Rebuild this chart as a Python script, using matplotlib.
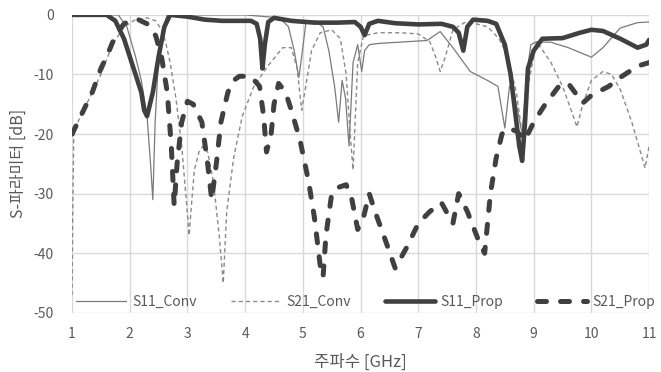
import matplotlib
matplotlib.use("Agg")
import matplotlib.pyplot as plt

plt.rcParams['font.family'] = ['Noto Sans CJK KR', 'DejaVu Sans']

# S11_Conv (thin solid)
f_s11_conv = [1.0, 1.8, 1.95, 2.1, 2.2, 2.3, 2.36, 2.4, 2.44, 2.5, 2.58, 2.65, 3.0, 4.0, 4.6,
              4.75, 4.85, 4.93, 4.98, 5.05, 5.2, 5.35, 5.45, 5.55, 5.62, 5.68, 5.74, 5.8, 5.87,
              5.95, 6.02, 6.07, 6.15, 6.3, 6.8, 7.15, 7.38, 7.6, 7.9, 8.2, 8.38, 8.5, 8.58,
              8.66, 8.72, 8.8, 8.88, 8.95, 9.05, 9.3, 9.6, 10.0, 10.2, 10.5, 10.8, 11.0]
s11_conv = [0, 0, -2, -7, -11, -17, -25, -31, -18, -7, -2, 0, 0, 0, -0.5,
            -2, -6, -10.5, -7, -1.5, -1, -2, -6, -12, -18, -11, -14, -22, -8,
            -5, -9.5, -6, -5, -4.8, -4.5, -4.3, -2.8, -5.5, -9.5, -11, -12, -19, -12,
            -13, -16, -20, -10, -5, -4.5, -4.6, -5.5, -7.1, -5.5, -2.2, -1.3, -1.2]

# S21_Conv (thin dashed)
f_s21_conv = [1.0, 1.01, 1.03, 1.1, 1.3, 1.5, 1.7, 1.9, 2.1, 2.3, 2.45, 2.55, 2.62, 2.7, 2.8,
              2.9, 2.97, 3.03, 3.06, 3.12, 3.2, 3.27, 3.35, 3.45, 3.55, 3.62, 3.68, 3.8, 3.95,
              4.15, 4.4, 4.65, 4.8, 4.9, 4.98, 5.05, 5.15, 5.3, 5.5, 5.65, 5.75, 5.82, 5.87,
              5.95, 6.05, 6.3, 6.7, 7.0, 7.2, 7.3, 7.38, 7.47, 7.6, 7.8, 8.0, 8.2, 8.4, 8.55,
              8.7, 8.8, 8.9, 9.05, 9.3, 9.5, 9.65, 9.75, 9.85, 10.0, 10.2, 10.35, 10.5, 10.7,
              10.85, 10.93, 11.0]
s21_conv = [-47, -35, -20, -18, -14, -10, -5, -2, -0.8, -0.5, -1, -2.5, -4.5, -8, -14,
            -22, -30, -37, -33, -26, -23, -22, -23, -28, -37, -45, -33, -24, -17,
            -12, -8.5, -5.5, -5.5, -9, -16, -12, -6, -3, -2.5, -4, -10, -20, -26,
            -8, -3.5, -3, -3, -3.2, -4.5, -7, -9.5, -7, -2.5, -1.3, -1.5, -2, -4, -7,
            -13, -20, -12, -4.5, -8, -12, -16, -18.8, -15, -11, -9.5, -10, -12.5, -18,
            -23, -25.7, -22]

# S11_Prop (thick solid)
f_s11_prop = [1.0, 1.6, 1.75, 1.9, 2.0, 2.1, 2.2, 2.25, 2.3, 2.4, 2.5, 2.6, 2.7, 3.0, 3.3,
              3.6, 3.9, 4.1, 4.2, 4.26, 4.3, 4.34, 4.4, 4.5, 4.8, 5.2, 5.6, 5.9, 6.0, 6.07,
              6.15, 6.3, 6.6, 7.0, 7.4, 7.6, 7.7, 7.78, 7.85, 7.95, 8.2, 8.35, 8.5, 8.6, 8.7,
              8.75, 8.8, 8.85, 8.9, 9.0, 9.15, 9.5, 9.8, 10.0, 10.2, 10.5, 10.8, 10.95, 11.0]
s11_prop = [0, 0, -1, -4, -7, -10, -13, -16, -17, -13, -7, -2, 0, -0.3, -0.8,
            -1, -1, -1, -1.5, -4, -9, -5, -1.2, -0.5, -1, -1.3, -1.3, -1.2, -2, -3.4,
            -1.5, -1, -1.4, -1.6, -1.5, -2, -3, -6, -2, -0.8, -1, -1.5, -5, -10, -18,
            -22, -24.5, -18, -9, -6, -4, -3.9, -3, -2.5, -2.7, -4, -5.5, -5, -4.2]

# S21_Prop (thick dashed)
f_s21_prop = [1.0, 1.05, 1.2, 1.35, 1.5, 1.6, 1.75, 1.9, 2.0, 2.15, 2.3, 2.45, 2.55, 2.65,
              2.72, 2.77, 2.82, 2.9, 3.0, 3.1, 3.25, 3.35, 3.42, 3.5, 3.58, 3.7, 3.8, 3.9,
              4.1, 4.25, 4.32, 4.37, 4.45, 4.5, 4.58, 4.7, 4.8, 4.95, 5.1, 5.2, 5.3, 5.35,
              5.4, 5.5, 5.6, 5.75, 5.85, 5.95, 6.05, 6.15, 6.25, 6.4, 6.6, 6.8, 7.0, 7.2,
              7.4, 7.6, 7.7, 7.85, 8.05, 8.15, 8.25, 8.35, 8.45, 8.55, 8.7, 8.85, 9.0, 9.1,
              9.2, 9.45, 9.6, 9.85, 10.0, 10.3, 10.5, 10.8, 11.0]
s21_prop = [-20, -19, -16, -13, -9, -7, -3.5, -1.5, -1, -0.8, -1.5, -3.5, -7, -13,
            -22, -32, -25, -18, -14.5, -15, -18, -25, -31, -25, -18, -13, -11, -10.3,
            -10.3, -12, -17, -23, -20, -15, -11.5, -13, -16, -21, -28, -34, -42, -44,
            -37, -30, -29, -28.5, -31, -36, -34, -30, -33, -37, -42.5, -39, -35, -33,
            -31.5, -35, -30, -33, -38, -40, -30, -24, -20, -19, -19.5, -21, -18, -16.5,
            -15, -11.8, -11.5, -14.8, -13.5, -12, -10.5, -8.6, -8]

fig = plt.figure(figsize=(6.61, 3.72), dpi=100)
ax = fig.add_axes([0.109, 0.159, 0.873, 0.801])

ax.plot(f_s11_conv, s11_conv, color='#7a7a7a', lw=0.9, label='S11_Conv')
ax.plot(f_s21_conv, s21_conv, color='#8a8a8a', lw=1.0, dashes=(3, 2.2), label='S21_Conv')
ax.plot(f_s11_prop, s11_prop, color='#404040', lw=3.3, solid_capstyle='round',
        solid_joinstyle='round', label='S11_Prop')
ax.plot(f_s21_prop, s21_prop, color='#404040', lw=3.6, dashes=(1.8, 2.8),
        dash_capstyle='round', label='S21_Prop')

ax.set_xlim(1, 11)
ax.set_ylim(-50, 0)
ax.set_xticks(range(1, 12))
ax.set_yticks(range(-50, 1, 10))
ax.set_yticklabels([str(v) for v in range(-50, 1, 10)])
ax.grid(True, color='#d9d9d9', lw=1.0)
ax.set_axisbelow(True)
for s in ax.spines.values():
    s.set_visible(False)
ax.tick_params(length=0, labelsize=10, labelcolor='#595959')
ax.tick_params(axis='x', pad=10)
ax.tick_params(axis='y', pad=13)

ax.set_xlabel('주파수 [GHz]', fontsize=12, color='#595959')
ax.set_ylabel('S-파라미터 [dB]', fontsize=11.5, color='#595959')
ax.xaxis.set_label_coords(0.5, -0.138)
ax.yaxis.set_label_coords(-0.078, 0.5)

leg = ax.legend(loc='lower left', bbox_to_anchor=(-0.002, -0.005), ncol=4, frameon=False,
                fontsize=10, handlelength=3.6, handletextpad=0.4, columnspacing=2.45,
                borderaxespad=0.0)
for t in leg.get_texts():
    t.set_color('#595959')

fig.savefig('out.png', dpi=100)
